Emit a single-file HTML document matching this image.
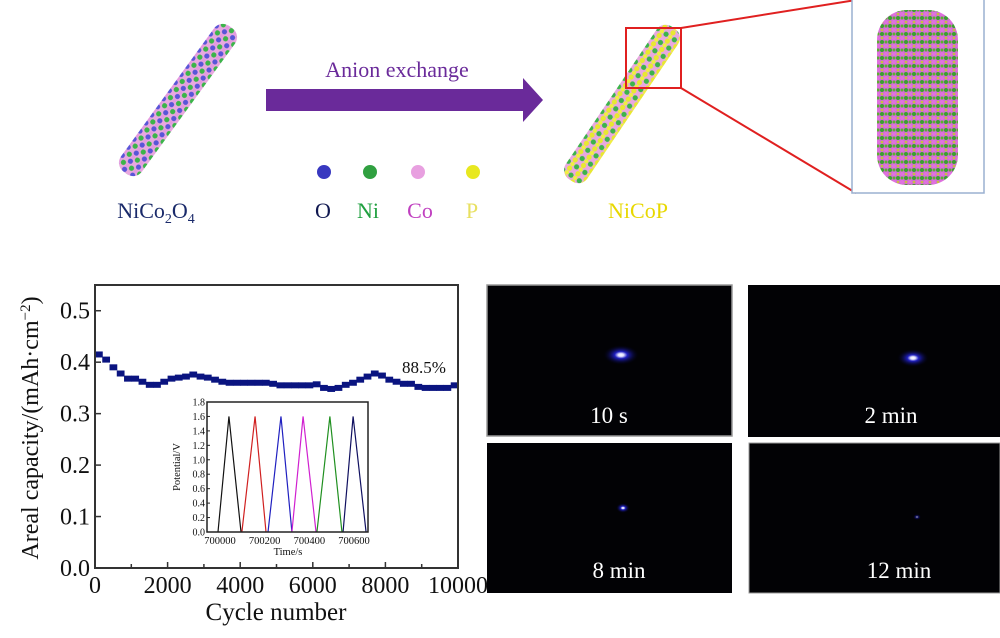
<!DOCTYPE html>
<html><head><meta charset="utf-8"><style>
html,body{margin:0;padding:0;background:#fff;width:1000px;height:638px;overflow:hidden;font-family:"Liberation Serif",serif}
svg text{font-family:"Liberation Serif",serif}
</style></head><body>
<svg id="fig" width="1000" height="638" viewBox="0 0 1000 638" xmlns="http://www.w3.org/2000/svg">
<defs>
<pattern id="pOld" width="10" height="10" patternUnits="userSpaceOnUse">
<rect width="10" height="10" fill="#e8a8e0"/><circle cx="2.5" cy="2.5" r="2.6" fill="#3cb44a"/><circle cx="7.5" cy="7.5" r="2.6" fill="#5a55d8"/><circle cx="7.5" cy="2.5" r="2" fill="#e49ae0"/></pattern>
<pattern id="pNew" width="10" height="10" patternUnits="userSpaceOnUse">
<rect width="10" height="10" fill="#e8a8e0"/><circle cx="2.5" cy="2.5" r="2.6" fill="#e8e830"/><circle cx="7.5" cy="7.5" r="2.6" fill="#3cb44a"/><circle cx="2.5" cy="7.5" r="2.2" fill="#f0f040"/></pattern>
<pattern id="pCyl" width="8" height="8" patternUnits="userSpaceOnUse">
<rect width="8" height="8" fill="#d070d0"/><circle cx="2" cy="2" r="2" fill="#3aa030"/><circle cx="6" cy="6" r="2" fill="#e070e0"/><circle cx="6" cy="2" r="1.5" fill="#5cb030"/><circle cx="2" cy="6" r="1.3" fill="#c8c040"/></pattern>
<radialGradient id="glow"><stop offset="0" stop-color="#ffffff"/><stop offset="0.15" stop-color="#e0e0ff"/><stop offset="0.35" stop-color="#2020c0"/><stop offset="1" stop-color="#000010" stop-opacity="0"/></radialGradient>
</defs>

<g>
<rect x="-13" y="-90" width="26" height="180" rx="11" fill="url(#pOld)" transform="translate(178,100) rotate(36)"/>
<text x="156" y="218" font-size="22" fill="#1a2a6a" text-anchor="middle">NiCo<tspan font-size="14" dy="5">2</tspan><tspan dy="-5">O</tspan><tspan font-size="14" dy="5">4</tspan></text>
<text x="397" y="77" font-size="22" fill="#6a2a9a" text-anchor="middle">Anion exchange</text>
<polygon points="266,89 523,89 523,78 543,100 523,122 523,111 266,111" fill="#6a2a9a"/>
<g>
<circle cx="324" cy="172" r="7" fill="#3838c0"/><circle cx="370" cy="172" r="7" fill="#30a040"/><circle cx="418" cy="172" r="7" fill="#e8a0e0"/><circle cx="473" cy="172" r="7" fill="#e8e820"/>
<text x="323" y="218" font-size="22" fill="#101850" text-anchor="middle">O</text>
<text x="368" y="218" font-size="22" fill="#20a040" text-anchor="middle">Ni</text>
<text x="420" y="218" font-size="22" fill="#c040c0" text-anchor="middle">Co</text>
<text x="472" y="218" font-size="22" fill="#e8e060" text-anchor="middle">P</text>
</g>
<rect x="-13" y="-92" width="26" height="184" rx="11" fill="url(#pNew)" transform="translate(622,104) rotate(34)"/>
<text x="638" y="218" font-size="22" fill="#e8d800" text-anchor="middle">NiCoP</text>
<rect x="626" y="28" width="55" height="60" fill="none" stroke="#e02020" stroke-width="2"/>
<line x1="681" y1="28" x2="856" y2="0" stroke="#e02020" stroke-width="2"/>
<line x1="681" y1="88" x2="856" y2="193" stroke="#e02020" stroke-width="2"/>
<rect x="852" y="-2" width="132" height="195" fill="#fff" stroke="#9ab0d0" stroke-width="1.5"/>
<rect x="877" y="10" width="81" height="175" rx="30" fill="url(#pCyl)"/>
</g>

<g id="chart"></g>
<g id="inset"></g>

<g>
<rect x="487" y="285" width="245" height="151" fill="#020205" stroke="#999" stroke-width="1.5"/>
<rect x="748" y="285" width="252" height="152" fill="#020205"/>
<rect x="487" y="443" width="245" height="150" fill="#020205"/>
<rect x="749" y="443" width="251" height="150" fill="#020205" stroke="#999" stroke-width="1"/>
<ellipse cx="621" cy="355" rx="18" ry="10" fill="url(#glow)"/>
<ellipse cx="913" cy="358" rx="16" ry="9" fill="url(#glow)"/>
<ellipse cx="623" cy="508" rx="7" ry="5" fill="url(#glow)"/>
<ellipse cx="917" cy="517" rx="4" ry="3" fill="url(#glow)" opacity="0.6"/>
<text x="609" y="423" font-size="23" fill="#fff" text-anchor="middle">10 s</text>
<text x="891" y="423" font-size="23" fill="#fff" text-anchor="middle">2 min</text>
<text x="619" y="578" font-size="23" fill="#fff" text-anchor="middle">8 min</text>
<text x="899" y="578" font-size="23" fill="#fff" text-anchor="middle">12 min</text>
</g>
</svg>
<script>
const cycles=[0,200,400,600,800,1000,1200,1400,1600,1800,2000,2200,2400,2600,2800,3000,3200,3400,3600,3800,4000,4200,4400,4600,4800,5000,5200,5400,5600,5800,6000,6200,6400,6600,6800,7000,7200,7400,7600,7800,8000,8200,8400,8600,8800,9000,9200,9400,9600,9800];
const capacity=[0.415,0.405,0.39,0.378,0.368,0.368,0.362,0.356,0.356,0.362,0.368,0.37,0.372,0.376,0.372,0.37,0.366,0.362,0.36,0.36,0.36,0.36,0.36,0.36,0.358,0.355,0.355,0.355,0.355,0.355,0.357,0.35,0.348,0.35,0.356,0.36,0.366,0.372,0.378,0.374,0.366,0.362,0.358,0.358,0.352,0.35,0.35,0.35,0.35,0.355];
const yTicks=[0.0,0.1,0.2,0.3,0.4,0.5];
const xTicks=[0,2000,4000,6000,8000,10000];
const cycleColors=["#111111","#d02020","#2020c0","#d020d0","#209020","#101060"];
const cycStart=[699991,700098,700215,700322,700434,700551];
const cycPeak=[700040,700157,700273,700372,700492,700596];
const cycEnd=[700094,700206,700322,700430,700546,700654];
const peakV=[1.6,1.6,1.6,1.6,1.6,1.6];
const insetYTicks=[0.0,0.2,0.4,0.6,0.8,1.0,1.2,1.4,1.6,1.8];
const insetXTicks=[700000,700200,700400,700600];

const NS="http://www.w3.org/2000/svg";
function mk(p,tag,at,txt){const e=document.createElementNS(NS,tag);for(const k in at)e.setAttribute(k,at[k]);if(txt!=null)e.textContent=txt;p.appendChild(e);return e;}

const ch=document.getElementById('chart');
const L=95,R=458,T=285,B=568;
const X=c=>L+(c/10000)*(R-L);
const Y=v=>B-(v/0.55)*(B-T);
for(let i=0;i<cycles.length;i++){
 const r=mk(ch,'rect',{x:X(cycles[i]),y:Y(capacity[i])-3,width:X(200)-X(0)+0.5,height:6,fill:'#0a1480'});
 
 
}
const fr=mk(ch,'rect',{x:L,y:T,width:R-L,height:B-T,fill:'none',stroke:'#333',"stroke-width":2});


yTicks.forEach(v=>{
 mk(ch,'line',{x1:L,x2:L+6,y1:Y(v),y2:Y(v),stroke:'#333',"stroke-width":1.5});
 const t=mk(ch,'text',{x:L-5,y:Y(v)+8,"font-size":24,"text-anchor":"end",fill:'#111'},v.toFixed(1));
 
 
});
for(let c=1000;c<10000;c+=1000)mk(ch,'line',{x1:X(c),x2:X(c),y1:B,y2:B-(c%2000?4:6),stroke:'#333',"stroke-width":1.5});
xTicks.forEach(c=>{
 const t=mk(ch,'text',{x:X(c),y:B+25,"font-size":24,"text-anchor":"middle",fill:'#111'},String(c));
 
 
});
let t=mk(ch,'text',{x:276,y:620,"font-size":25,"text-anchor":"middle",fill:'#111'},'Cycle number');


t=mk(ch,'text',{transform:'translate(38,428) rotate(-90)',"font-size":24,"text-anchor":"middle",fill:'#111'});
t.innerHTML='Areal capacity/(mAh·cm<tspan font-size="15" dy="-8">−2</tspan><tspan dy="8">)</tspan>';


t=mk(ch,'text',{x:424,y:373,"font-size":17,"text-anchor":"middle",fill:'#111'},'88.5%');



const ins=document.getElementById('inset');
const iL=207,iR=368,iT=402,iB=532;
const IX=s=>220+(s-700000)*(134/600);
const IY=v=>iB-(v/1.8)*(iB-iT);
mk(ins,'rect',{x:iL,y:iT,width:iR-iL,height:iB-iT,fill:'#fff'});
for(let i=0;i<cycStart.length;i++){
 const p=mk(ins,'polyline',{points:`${IX(cycStart[i])},${IY(0)} ${IX(cycPeak[i])},${IY(peakV[i])} ${IX(cycEnd[i])},${IY(0)}`,fill:'none',stroke:cycleColors[i],"stroke-width":1.2});
 
 
}
const ifr=mk(ins,'rect',{x:iL,y:iT,width:iR-iL,height:iB-iT,fill:'none',stroke:'#222',"stroke-width":1.5});


insetYTicks.forEach(v=>{
 mk(ins,'line',{x1:iL,x2:iL+3,y1:IY(v),y2:IY(v),stroke:'#222'});
 const tt=mk(ins,'text',{x:iL-2,y:IY(v)+3.5,"font-size":10,"text-anchor":"end",fill:'#111'},v.toFixed(1));
 
 
});
insetXTicks.forEach(s=>{
 const tt=mk(ins,'text',{x:IX(s),y:iB+12,"font-size":10.5,"text-anchor":"middle",fill:'#111'},String(s));
 
 
});
t=mk(ins,'text',{x:288,y:555,"font-size":10.5,"text-anchor":"middle",fill:'#111'},'Time/s');


t=mk(ins,'text',{transform:'translate(180,467) rotate(-90)',"font-size":10.5,"text-anchor":"middle",fill:'#111'},'Potential/V');


</script>
</body></html>
